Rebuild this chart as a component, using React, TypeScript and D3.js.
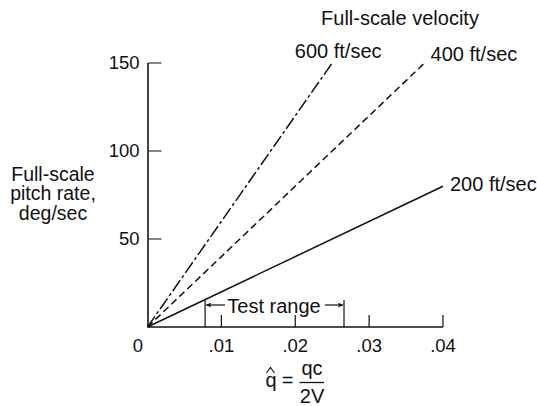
import React from "react";
import * as d3 from "d3";

// Full-scale velocities and the end point of each pitch-rate line
const velocityLabels = ["200 ft/sec", "400 ft/sec", "600 ft/sec"];
const lineStartQ = [0, 0, 0];
const lineStartRate = [0, 0, 0];
const lineEndQ = [0.04, 0.0375, 0.025];
const lineEndRate = [80, 150, 150];
const lineDash = ["none", "7,4", "13,3,3,3"];

// Test range of the reduced pitch rate
const testRange = [0.0078, 0.0266];

// Axis ticks
const xTicks = [0.01, 0.02, 0.03, 0.04];
const xTickLabels = [".01", ".02", ".03", ".04"];
const yTicks = [50, 100, 150];

const W = 537;
const H = 406;
const FONT = "'Liberation Sans', Arial, Helvetica, sans-serif";

export default function App() {
  const x = d3.scaleLinear().domain([0, 0.04]).range([147.5, 443]);
  const y = d3.scaleLinear().domain([0, 150]).range([327, 63]);
  const line = d3
    .line<[number, number]>()
    .x((d) => x(d[0]))
    .y((d) => y(d[1]));

  const labelPos = [
    { dx: 7, dy: 5, anchor: "start" },
    { dx: 6, dy: -2, anchor: "start" },
    { dx: 6, dy: -5, anchor: "middle" },
  ];

  const tr0 = x(testRange[0]);
  const tr1 = x(testRange[1]);
  const trY = 305;

  return (
    <svg
      width={W}
      height={H}
      style={{ position: "absolute", left: 0, top: 0, background: "#fff" }}
      fontFamily={FONT}
    >
      <defs>
        <marker
          id="arr"
          viewBox="0 0 10 10"
          refX="10"
          refY="5"
          markerWidth="8"
          markerHeight="5"
          markerUnits="userSpaceOnUse"
          orient="auto"
        >
          <path d="M0,0 L10,5 L0,10 L2,5 z" fill="#111" />
        </marker>
      </defs>

      {/* axes */}
      <line x1={x(0) + 0.5} x2={x(0) + 0.5} y1={y(0)} y2={y(150)} stroke="#111" strokeWidth={1.6} />
      <line x1={x(0)} x2={x(0.04)} y1={y(0)} y2={y(0)} stroke="#111" strokeWidth={1.6} />

      {yTicks.map((t) => (
        <g key={t}>
          <line x1={x(0) + 0.5} x2={x(0) + 14} y1={y(t)} y2={y(t)} stroke="#333" strokeWidth={1.2} />
          <text x={139.5} y={y(t) + 6.3} textAnchor="end" fontSize={18.5} fill="#111">
            {t}
          </text>
        </g>
      ))}
      <text x={143} y={352} textAnchor="end" fontSize={18.5} fill="#111">
        0
      </text>

      {xTicks.map((t, i) => (
        <g key={t}>
          <line x1={x(t)} x2={x(t)} y1={y(0)} y2={y(0) - 12} stroke="#111" strokeWidth={1.2} />
          <text x={x(t)} y={352} textAnchor="middle" fontSize={18.5} fill="#111">
            {xTickLabels[i]}
          </text>
        </g>
      ))}

      {/* velocity lines */}
      {velocityLabels.map((lab, i) => {
        const p0: [number, number] = [lineStartQ[i], lineStartRate[i]];
        const p1: [number, number] = [lineEndQ[i], lineEndRate[i]];
        const lp = labelPos[i];
        return (
          <g key={lab}>
            <path
              d={line([p0, p1]) || ""}
              fill="none"
              stroke="#111"
              strokeWidth={1.5}
              strokeDasharray={lineDash[i]}
            />
            <text
              x={x(p1[0]) + lp.dx}
              y={y(p1[1]) + lp.dy}
              textAnchor={lp.anchor as any}
              fontSize={20}
              fill="#111"
            >
              {lab}
            </text>
          </g>
        );
      })}

      <text x={400} y={25} textAnchor="middle" fontSize={20} fill="#111">
        Full-scale velocity
      </text>

      {/* test range */}
      <line x1={tr0} x2={tr0} y1={300} y2={y(0)} stroke="#111" strokeWidth={1.2} />
      <line x1={tr1} x2={tr1} y1={300} y2={y(0)} stroke="#111" strokeWidth={1.2} />
      <line x1={225} x2={tr0 + 1} y1={trY} y2={trY} stroke="#111" strokeWidth={1.2} markerEnd="url(#arr)" />
      <line x1={325} x2={tr1 - 1} y1={trY} y2={trY} stroke="#111" strokeWidth={1.2} markerEnd="url(#arr)" />
      <text x={274} y={313} textAnchor="middle" fontSize={20} fill="#111">
        Test range
      </text>

      {/* y-axis title */}
      <text x={53} y={180.5} textAnchor="middle" fontSize={19.5} fill="#111">
        Full-scale
      </text>
      <text x={53} y={200.3} textAnchor="middle" fontSize={19.5} fill="#111">
        pitch rate,
      </text>
      <text x={53} y={220} textAnchor="middle" fontSize={19.5} fill="#111">
        deg/sec
      </text>

      {/* x-axis title: q-hat = qc / 2V */}
      <text x={271} y={386.5} textAnchor="middle" fontSize={20} fill="#111">
        q
      </text>
      <path d="M266.5,373 L270.5,367.5 L274.5,373" fill="none" stroke="#111" strokeWidth={1.1} />
      <text x={287.5} y={387} textAnchor="middle" fontSize={20} fill="#111">
        =
      </text>
      <text x={312} y={375} textAnchor="middle" fontSize={20} fill="#111">
        qc
      </text>
      <line x1={299.5} x2={324} y1={382.5} y2={382.5} stroke="#111" strokeWidth={1.3} />
      <text x={312} y={403} textAnchor="middle" fontSize={20} fill="#111">
        2V
      </text>
    </svg>
  );
}
